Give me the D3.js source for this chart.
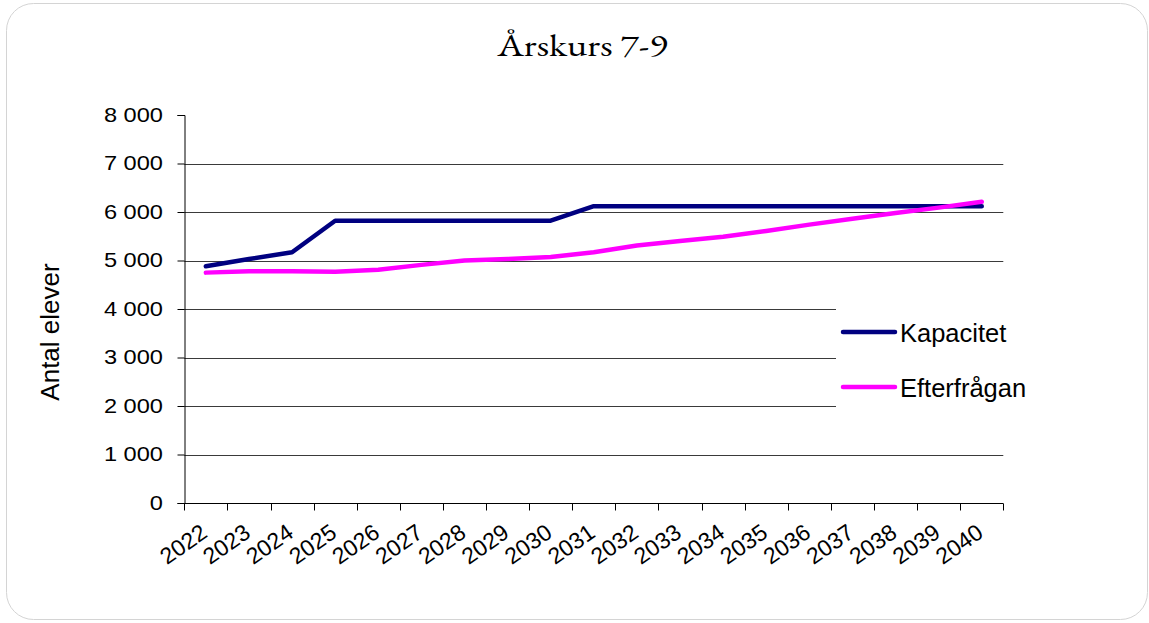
<!DOCTYPE html>
<html>
<head>
<meta charset="utf-8">
<script src="https://cdn.jsdelivr.net/npm/d3@7"></script>
<style>
  html, body { margin: 0; padding: 0; background: #fff; }
  svg { display: block; }
</style>
</head>
<body>
<div id="chart"></div>
<script>
// data
const years = ["2022","2023","2024","2025","2026","2027","2028","2029","2030","2031",
               "2032","2033","2034","2035","2036","2037","2038","2039","2040"];
const kapacitet = [4880, 5030, 5170, 5820, 5820, 5820, 5820, 5820, 5820, 6120,
                   6120, 6120, 6120, 6120, 6120, 6120, 6120, 6120, 6120];
const efterfragan = [4750, 4780, 4780, 4770, 4810, 4910, 5000, 5030, 5070, 5170,
                     5310, 5400, 5490, 5610, 5740, 5860, 5980, 6090, 6210];
const yTicks = [0, 1000, 2000, 3000, 4000, 5000, 6000, 7000, 8000];
const seriesNames = ["Kapacitet", "Efterfrågan"];
const seriesColors = ["#000080", "#ff00ff"];

const W = 1149, H = 623;
const plot = { left: 184.3, right: 1003.3, top: 115, bottom: 503 };

const svg = d3.select("#chart").append("svg")
  .attr("width", W)
  .attr("height", H);

// outer rounded frame
svg.append("rect")
  .attr("x", 6.5).attr("y", 3.5)
  .attr("width", 1141).attr("height", 616)
  .attr("rx", 27)
  .attr("fill", "#fff")
  .attr("stroke", "#d4d4d4");

const x = d3.scaleBand()
  .domain(years)
  .range([plot.left, plot.right])
  .padding(0);

const y = d3.scaleLinear()
  .domain([0, 8000])
  .range([plot.bottom, plot.top]);

const fmt = d => d3.format(",")(d).replace(/,/g, "\u00a0");

// gridlines (not at 0 / 8000)
svg.append("g")
  .selectAll("line")
  .data(yTicks.filter(d => d > 0 && d < 8000))
  .join("line")
  .attr("x1", plot.left)
  .attr("x2", plot.right)
  .attr("y1", d => Math.round(y(d)) + 0.5)
  .attr("y2", d => Math.round(y(d)) + 0.5)
  .attr("stroke", "#3a3a3a")
  .attr("stroke-width", 1);

// Y axis
const yStretch = 1.18;
const yAxis = svg.append("g")
  .attr("transform", `translate(${Math.round(plot.left) + 0.5},0)`)
  .call(d3.axisLeft(y).tickValues(yTicks).tickFormat(fmt).tickSize(7).tickPadding(14.6));
yAxis.select(".domain").attr("stroke", "#000");
yAxis.selectAll(".tick line").attr("stroke", "#000");
yAxis.selectAll(".tick text")
  .style("font-family", "Arial, 'Liberation Sans', sans-serif")
  .style("font-size", "20px")
  .attr("fill", "#000")
  .attr("x", -21.6 / yStretch)
  .attr("transform", `scale(${yStretch},1)`);

// X axis line with boundary ticks
const xg = svg.append("g")
  .attr("transform", `translate(0,${Math.round(plot.bottom) + 0.5})`);
xg.append("line")
  .attr("x1", plot.left).attr("x2", plot.right)
  .attr("stroke", "#000");
xg.selectAll("line.tk")
  .data(years.concat(["end"]))
  .join("line")
  .attr("class", "tk")
  .attr("x1", (d, i) => Math.round(plot.left + i * x.step()) + 0.5)
  .attr("x2", (d, i) => Math.round(plot.left + i * x.step()) + 0.5)
  .attr("y1", 0).attr("y2", 7)
  .attr("stroke", "#000");

const xAxis = svg.append("g")
  .attr("transform", `translate(0,${plot.bottom})`)
  .call(d3.axisBottom(x).tickSize(0).tickPadding(0));
xAxis.select(".domain").remove();
xAxis.selectAll(".tick text")
  .style("font-family", "Arial, 'Liberation Sans', sans-serif")
  .style("font-size", "23px")
  .attr("fill", "#000")
  .attr("text-anchor", "end")
  .attr("y", 0)
  .attr("dy", 0)
  .attr("transform", "translate(3,33) rotate(-35)");

// lines
const line = d3.line()
  .x((d, i) => x(years[i]) + x.bandwidth() / 2)
  .y(d => y(d));

[kapacitet, efterfragan].forEach((vals, k) => {
  svg.append("path")
    .datum(vals)
    .attr("fill", "none")
    .attr("stroke", seriesColors[k])
    .attr("stroke-width", 4.5)
    .attr("stroke-linejoin", "round")
    .attr("stroke-linecap", "round")
    .attr("d", line);
});

// legend (white box hides gridlines behind it)
const legend = svg.append("g");
legend.append("rect")
  .attr("x", 836).attr("y", 290)
  .attr("width", 200).attr("height", 145)
  .attr("fill", "#fff");
seriesNames.forEach((name, i) => {
  const ly = 332 + i * 55;
  legend.append("line")
    .attr("x1", 843).attr("x2", 895)
    .attr("y1", ly).attr("y2", ly)
    .attr("stroke", seriesColors[i])
    .attr("stroke-width", 4.5)
    .attr("stroke-linecap", "round");
  legend.append("text")
    .attr("x", 900).attr("y", ly + 9.5)
    .style("font-family", "Arial, 'Liberation Sans', sans-serif")
    .style("font-size", "25.5px")
    .attr("fill", "#000")
    .text(name);
});

// title
const tStretch = 1.24;
svg.append("text")
  .attr("x", 582.5 / tStretch).attr("y", 56)
  .attr("transform", `scale(${tStretch},1)`)
  .attr("text-anchor", "middle")
  .style("font-family", "Garamond, 'EB Garamond', 'Liberation Serif', 'Times New Roman', serif")
  .style("font-size", "31px")
  .attr("fill", "#000")
  .text("Årskurs 7-9");

// y axis title
svg.append("text")
  .attr("transform", "translate(59,332) rotate(-90)")
  .attr("text-anchor", "middle")
  .style("font-family", "Arial, 'Liberation Sans', sans-serif")
  .style("font-size", "26px")
  .attr("fill", "#000")
  .text("Antal elever");
</script>
</body>
</html>
